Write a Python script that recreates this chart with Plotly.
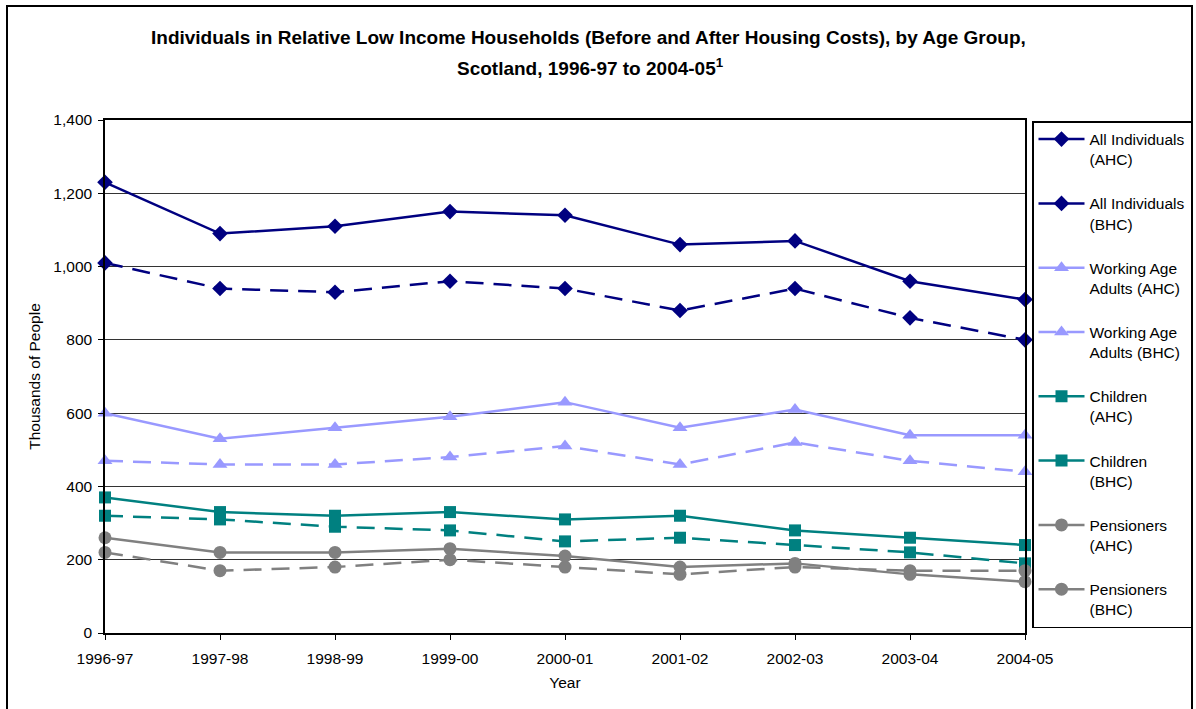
import plotly.graph_objects as go

years = ["1996-97", "1997-98", "1998-99", "1999-00", "2000-01", "2001-02", "2002-03", "2003-04", "2004-05"]

all_ahc = [1230, 1090, 1110, 1150, 1140, 1060, 1070, 960, 910]
all_bhc = [1010, 940, 930, 960, 940, 880, 940, 860, 800]
waa_ahc = [600, 530, 560, 590, 630, 560, 610, 540, 540]
waa_bhc = [470, 460, 460, 480, 510, 460, 520, 470, 440]
chi_ahc = [370, 330, 320, 330, 310, 320, 280, 260, 240]
chi_bhc = [320, 310, 290, 280, 250, 260, 240, 220, 190]
pen_ahc = [260, 220, 220, 230, 210, 180, 190, 160, 140]
pen_bhc = [220, 170, 180, 200, 180, 160, 180, 170, 170]

series_names = [
    "All Individuals<br>(AHC)", "All Individuals<br>(BHC)",
    "Working Age<br>Adults (AHC)", "Working Age<br>Adults (BHC)",
    "Children<br>(AHC)", "Children<br>(BHC)",
    "Pensioners<br>(AHC)", "Pensioners<br>(BHC)",
]
series_values = [all_ahc, all_bhc, waa_ahc, waa_bhc, chi_ahc, chi_bhc, pen_ahc, pen_bhc]
colors = ["#000080", "#000080", "#9999FF", "#9999FF", "#008080", "#008080", "#808080", "#808080"]
symbols = ["diamond", "diamond", "triangle-up", "triangle-up", "square", "square", "circle", "circle"]
sizes = [12, 12, 13, 13, 12, 12, 13, 13]
dashes = ["solid", "18px,10px"] * 4

FONT = "Liberation Sans, Arial, sans-serif"

fig = go.Figure()
for i, (name, vals) in enumerate(zip(series_names, series_values)):
    fig.add_trace(go.Scatter(
        x=years, y=vals, name=name, mode="lines+markers",
        line=dict(color=colors[i], width=2.5, dash=dashes[i]),
        marker=dict(symbol=symbols[i], size=sizes[i], color=colors[i]),
        legendgroup=f"g{i}", cliponaxis=False,
    ))

L, R, T, B = 105, 1025, 120, 633
W, H = 1196, 709
def px_x(p):
    return (p - L) / (R - L)
def px_y(p):
    return (B - p) / (B - T)

fig.update_layout(
    width=W, height=H,
    margin=dict(l=L, r=W - R, t=T, b=H - B, autoexpand=False),
    paper_bgcolor="white", plot_bgcolor="white",
    font=dict(family=FONT, size=15.5, color="black"),
    showlegend=True,
    legend=dict(
        x=px_x(1032), xanchor="left", y=px_y(121), yanchor="top",
        bordercolor="black", borderwidth=1.5, bgcolor="white",
        font=dict(size=15.5), tracegroupgap=21, valign="top",
        itemwidth=46,
    ),
    xaxis=dict(
        title=dict(text="Year", font=dict(size=15.5), standoff=11),
        type="category", range=[0, 8],
        showline=True, linecolor="black", linewidth=1.5, mirror=True,
        ticks="outside", ticklen=5, tickcolor="black",
        showgrid=False, zeroline=False,
        tickfont=dict(size=15.5), ticklabelstandoff=6,
    ),
    yaxis=dict(
        title=dict(text="Thousands of People", font=dict(size=15.5), standoff=9),
        range=[0, 1400], dtick=200, tickformat=",",
        showline=True, linecolor="black", linewidth=1.5, mirror=True,
        ticks="outside", ticklen=5, tickcolor="black",
        showgrid=True, gridcolor="#333333", gridwidth=1, zeroline=False,
        tickfont=dict(size=15.5), ticklabelstandoff=3,
    ),
)

# title (two lines, Excel-style spacing)
fig.add_annotation(
    text="<b>Individuals in Relative Low Income Households (Before and After Housing Costs), by Age Group,</b>",
    xref="paper", yref="paper", x=px_x(588), y=px_y(37), xanchor="center", yanchor="middle",
    showarrow=False, font=dict(size=19, family=FONT),
)
fig.add_annotation(
    text="<b>Scotland, 1996-97 to 2004-05<sup>1</sup></b>",
    xref="paper", yref="paper", x=px_x(590), y=px_y(67), xanchor="center", yanchor="middle",
    showarrow=False, font=dict(size=19, family=FONT),
)

# outer chart frame
fig.add_shape(type="rect", xref="paper", yref="paper",
              x0=px_x(7), x1=px_x(1192), y0=px_y(720), y1=px_y(6),
              line=dict(color="black", width=2), fillcolor="rgba(0,0,0,0)", layer="below")

fig.write_html("out.html", config={"displayModeBar": False},
               post_script="document.body.style.margin='0px';")
